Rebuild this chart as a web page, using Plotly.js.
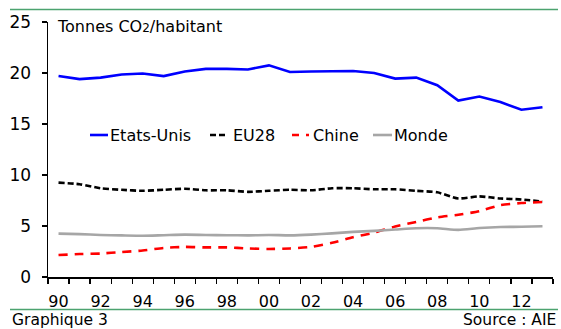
<!DOCTYPE html>
<html>
<head>
<meta charset="utf-8">
<script src="https://cdn.plot.ly/plotly-3.0.1.min.js"></script>
<style>html,body{margin:0;padding:0;background:#fff;}#chart{width:561px;height:329px;}</style>
</head>
<body>
<div id="chart"></div>
<script>
// ---- data ----
var years = [1990,1991,1992,1993,1994,1995,1996,1997,1998,1999,2000,2001,2002,2003,2004,2005,2006,2007,2008,2009,2010,2011,2012,2013];
var etatsUnis = [19.7,19.4,19.55,19.85,19.95,19.7,20.15,20.4,20.4,20.35,20.75,20.1,20.15,20.15,20.2,20.0,19.45,19.55,18.8,17.3,17.7,17.15,16.4,16.65];
var eu28 = [9.25,9.1,8.7,8.55,8.45,8.55,8.65,8.5,8.5,8.35,8.45,8.55,8.5,8.7,8.7,8.6,8.6,8.45,8.3,7.7,7.9,7.7,7.6,7.4];
var chine = [2.15,2.25,2.3,2.45,2.6,2.85,2.95,2.9,2.9,2.8,2.75,2.8,2.95,3.35,3.9,4.35,4.95,5.4,5.85,6.1,6.45,7.05,7.25,7.35];
var monde = [4.25,4.2,4.12,4.08,4.05,4.1,4.15,4.12,4.1,4.08,4.12,4.08,4.15,4.28,4.42,4.52,4.65,4.78,4.78,4.62,4.8,4.9,4.92,4.97];
var seriesNames = ["Etats-Unis","EU28","Chine","Monde"];
var xTickVals = [1990,1992,1994,1996,1998,2000,2002,2004,2006,2008,2010,2012];
var xTickText = ["90","92","94","96","98","00","02","04","06","08","10","12"];
var yTickVals = [0,5,10,15,20,25];

// ---- styles ----
var FONT = "DejaVu Sans, Liberation Sans, Arial, sans-serif";
var colors = ["#0000FF","#000000","#FF0000","#A6A6A6"];
var dashes = ["solid","6px,3px","9px,7px","solid"];
var shapesLine = ["linear","spline","spline","spline"];
var W = 561, H = 329, ML = 48, MR = 8, MT = 22, MB = 52;
var PW = W - ML - MR, PH = H - MT - MB;
function px(x){ return (x - ML) / PW; }
function py(y){ return (H - MB - y) / PH; }

var values = [etatsUnis, eu28, chine, monde];
var traces = values.map(function(v, i){
  return {
    x: years, y: v, type: "scatter", mode: "lines", name: seriesNames[i],
    line: {color: colors[i], width: 2.6, dash: dashes[i], shape: shapesLine[i], smoothing: 0.6},
    showlegend: false, hoverinfo: "skip"
  };
});

// manual legend (to match the reference's compact layout)
var legendLineX = [[90,108],[210,227],[292,309],[373,392]];
var legendTextX = [108,231,311,392];
var legendY = 135;
var shapes = [];
var annotations = [];
for (var i = 0; i < seriesNames.length; i++) {
  shapes.push({type:"line", xref:"paper", yref:"paper",
    x0: px(legendLineX[i][0]), x1: px(legendLineX[i][1]), y0: py(legendY), y1: py(legendY),
    line:{color: colors[i], width: 2.6, dash: i===2 ? "7px,7px" : (i===1 ? "6px,3px" : "solid")}});
  annotations.push({xref:"paper", yref:"paper", x: px(legendTextX[i]), y: py(legendY),
    xanchor:"left", yanchor:"middle", showarrow:false, text: seriesNames[i],
    font:{family: FONT, size: 16, color:"#000"}});
}
// green rules
shapes.push({type:"line", xref:"paper", yref:"paper", x0: px(10), x1: px(558), y0: py(9.5), y1: py(9.5),
  line:{color:"#4CA36F", width:1.6}});
shapes.push({type:"line", xref:"paper", yref:"paper", x0: px(10), x1: px(558), y0: py(309.5), y1: py(309.5),
  line:{color:"#4CA36F", width:1.6}});

annotations.push({xref:"paper", yref:"paper", x: px(55), y: py(26), xanchor:"left", yanchor:"middle",
  showarrow:false, text:'Tonnes CO<span style="font-size:12px">2</span>/habitant',
  font:{family: FONT, size: 16, color:"#000"}});
annotations.push({xref:"paper", yref:"paper", x: px(10), y: py(319.5), xanchor:"left", yanchor:"middle",
  showarrow:false, text:"Graphique 3", font:{family: FONT, size: 15.5, color:"#000"}});
annotations.push({xref:"paper", yref:"paper", x: px(558), y: py(319.5), xanchor:"right", yanchor:"middle",
  showarrow:false, text:"Source : AIE", font:{family: FONT, size: 15.5, color:"#000"}});

var layout = {
  width: W, height: H,
  margin: {l: ML, r: MR, t: MT, b: MB, pad: 0},
  paper_bgcolor: "#fff", plot_bgcolor: "#fff",
  showlegend: false,
  xaxis: {
    range: [1989.5, 2013.5], showgrid: false, zeroline: false,
    showline: true, linecolor: "#000", linewidth: 1.5,
    tickmode: "array", tickvals: xTickVals, ticktext: xTickText,
    ticks: "outside", ticklen: 9, tickcolor: "rgba(0,0,0,0)",
    tickfont: {family: FONT, size: 16, color: "#000"},
    minor: {tick0: 1989.5, dtick: 1, ticks: "outside", ticklen: 5, tickcolor: "#000", tickwidth: 1.2, showgrid: false},
    fixedrange: true
  },
  yaxis: {
    range: [0, 25], showgrid: false, zeroline: false,
    showline: true, linecolor: "#000", linewidth: 1.5,
    tickmode: "array", tickvals: yTickVals,
    ticks: "outside", ticklen: 5, tickcolor: "#000", tickwidth: 1.2,
    ticklabelstandoff: 7,
    tickfont: {family: FONT, size: 17, color: "#000"},
    fixedrange: true
  },
  shapes: shapes,
  annotations: annotations
};

Plotly.newPlot("chart", traces, layout, {displayModeBar: false, staticPlot: true});
</script>
</body>
</html>
